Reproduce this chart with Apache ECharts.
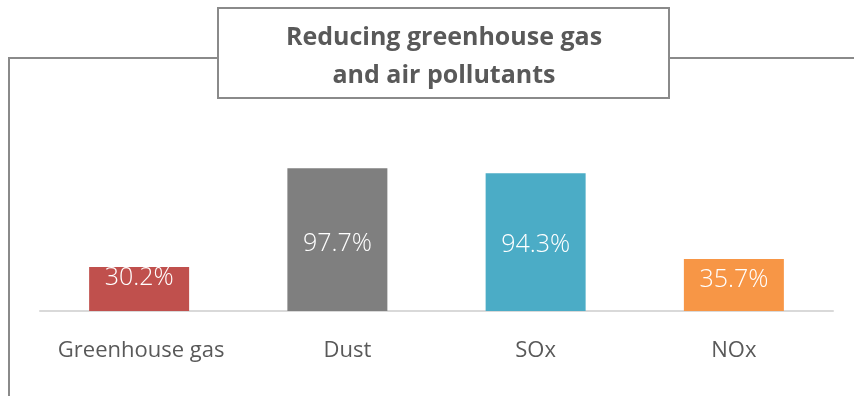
<!DOCTYPE html>
<html>
<head>
<meta charset="utf-8">
<script src="https://cdn.jsdelivr.net/npm/echarts@6/dist/echarts.min.js"></script>
<style>
  html, body { margin: 0; padding: 0; background: #ffffff; }
  #chart { width: 854px; height: 396px; }
</style>
</head>
<body>
<div id="chart"></div>
<script>
// Reduction rates by pollutant (%)
const categories = ['Greenhouse gas', 'Dust', 'SOx', 'NOx'];
const reductions = [30.2, 97.7, 94.3, 35.7];
const barColors = ['#C0504D', '#7F7F7F', '#4BACC6', '#F79646'];
// vertical nudge of each value label from the bar centre (px)
const labelShift = [-11, 4, 3, -5];
// horizontal nudge of each category label (px)
const categoryShift = [2, 10, 0, 0];

const titleText = 'Reducing greenhouse gas\nand air pollutants';
const lineColor = '#8a8a8a';

const chart = echarts.init(document.getElementById('chart'), null, { renderer: 'canvas' });

chart.setOption({
  animation: false,
  backgroundColor: '#ffffff',
  grid: { left: 40, right: 21, top: 165, bottom: 85, containLabel: false },
  xAxis: {
    type: 'category',
    data: categories.map((c, i) => ({
      value: c,
      textStyle: { padding: [0, 0, 0, categoryShift[i] * 2] }
    })),
    axisLine: { show: true, lineStyle: { color: '#d9d9d9', width: 2 } },
    axisTick: { show: false },
    axisLabel: {
      interval: 0,
      margin: 29,
      color: '#595959',
      fontFamily: 'Open Sans',
      fontSize: 22
    }
  },
  yAxis: {
    type: 'value',
    min: 0,
    max: 100,
    show: false,
    splitLine: { show: false }
  },
  series: [{
    type: 'bar',
    barWidth: 100,
    data: reductions.map((v, i) => ({
      value: v,
      itemStyle: { color: barColors[i] },
      label: { offset: [0, labelShift[i]] }
    })),
    label: {
      show: true,
      position: 'inside',
      color: '#ffffff',
      fontFamily: 'Open Sans',
      fontWeight: 300,
      fontSize: 25,
      formatter: p => p.value.toFixed(1) + '%'
    }
  }],
  graphic: [
    {
      type: 'polyline',
      shape: { points: [[217, 58], [9, 58], [9, 396]] },
      style: { stroke: lineColor, lineWidth: 2, fill: null }
    },
    {
      type: 'line',
      shape: { x1: 669, y1: 58, x2: 854, y2: 58 },
      style: { stroke: lineColor, lineWidth: 2 }
    },
    {
      type: 'rect',
      shape: { x: 218, y: 8, width: 451, height: 90 },
      style: { fill: '#ffffff', stroke: lineColor, lineWidth: 2 }
    },
    {
      type: 'text',
      x: 444,
      y: 57,
      style: {
        text: titleText,
        fill: '#595959',
        font: 'bold 25px "Open Sans"',
        align: 'center',
        verticalAlign: 'middle',
        lineHeight: 38
      }
    }
  ]
});
</script>
</body>
</html>
